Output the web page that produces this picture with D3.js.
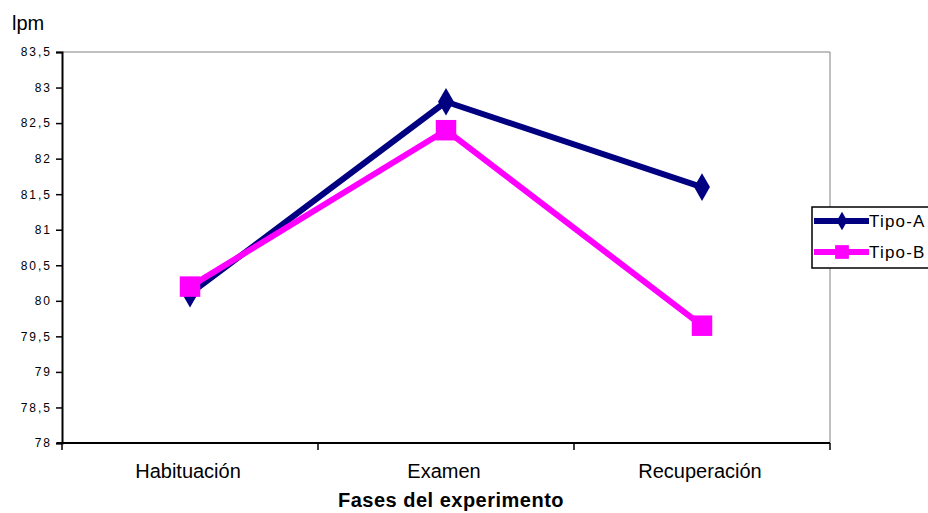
<!DOCTYPE html>
<html>
<head>
<meta charset="utf-8">
<script src="https://cdn.jsdelivr.net/npm/d3@7"></script>
<style>
  html, body { margin: 0; padding: 0; background: #fff; }
  svg { display: block; }
  text { font-family: "Liberation Sans", Arial, sans-serif; fill: #000; }
</style>
</head>
<body>
<svg id="chart" width="928" height="513"></svg>
<script>
// Heart rate (lpm) per experiment phase
const phases = ["Habituación", "Examen", "Recuperación"];
const tipoA = [80.1, 82.8, 81.6];
const tipoB = [80.2, 82.4, 79.65];
const yTicks = [78, 78.5, 79, 79.5, 80, 80.5, 81, 81.5, 82, 82.5, 83, 83.5];

const svg = d3.select("#chart");
const plot = { left: 62, right: 830, top: 52, bottom: 443 };

const x = d3.scaleBand().domain(phases).range([plot.left, plot.right]);
const y = d3.scaleLinear().domain([78, 83.5]).range([plot.bottom, plot.top]);
const fmt = v => String(v).replace(".", ",");

// plot frame (top and right edges)
svg.append("path")
  .attr("d", `M${plot.left},${plot.top}H${plot.right}V${plot.bottom}`)
  .attr("fill", "none").attr("stroke", "#808080").attr("stroke-width", 1);

// y axis
const yAxis = svg.append("g")
  .attr("transform", `translate(${plot.left},0)`)
  .call(d3.axisLeft(y).tickValues(yTicks).tickFormat(fmt).tickSize(6).tickPadding(4));
yAxis.select(".domain").attr("stroke", "#000").attr("stroke-width", 2);
yAxis.selectAll(".tick line").attr("stroke", "#000").attr("stroke-width", 1.5);
yAxis.selectAll("text")
  .style("font-size", "12px")
  .style("letter-spacing", "2px")
  .style("font-family", "'Liberation Sans', Arial, sans-serif");

// x axis with ticks at band boundaries
const xg = svg.append("g").attr("transform", `translate(0,${plot.bottom})`);
xg.append("line").attr("x1", plot.left - 5).attr("x2", plot.right)
  .attr("stroke", "#000").attr("stroke-width", 2);
const bounds = phases.map(p => x(p)).concat([plot.right]);
xg.selectAll("line.tk").data(bounds).join("line").attr("class", "tk")
  .attr("x1", d => d).attr("x2", d => d).attr("y1", 0).attr("y2", 7)
  .attr("stroke", "#000").attr("stroke-width", 1.5);
xg.selectAll("text.cat").data(phases).join("text").attr("class", "cat")
  .attr("x", d => x(d) + x.bandwidth() / 2 - 2).attr("y", 35)
  .attr("text-anchor", "middle").style("font-size", "20px").text(d => d);

// axis titles
svg.append("text").attr("x", 12).attr("y", 30).style("font-size", "20px").text("lpm");
svg.append("text").attr("x", 451).attr("y", 507)
  .attr("text-anchor", "middle").style("font-size", "20px").style("font-weight", "bold")
  .style("letter-spacing", "0.5px").text("Fases del experimento");

const cx = p => x(p) + x.bandwidth() / 2;
const line = d3.line().x((d, i) => cx(phases[i])).y(d => y(d));

const series = [
  { name: "Tipo-A", values: tipoA, color: "#000080", symbol: d3.symbolDiamond, size: 220 },
  { name: "Tipo-B", values: tipoB, color: "#FF00FF", symbol: d3.symbolSquare, size: 420 }
];

series.forEach(s => {
  svg.append("path").datum(s.values).attr("d", line)
    .attr("fill", "none").attr("stroke", s.color).attr("stroke-width", 6)
    .attr("stroke-linejoin", "round");
  svg.selectAll(null).data(s.values).join("path")
    .attr("transform", (d, i) => `translate(${cx(phases[i])},${y(d)})`)
    .attr("d", d3.symbol().type(s.symbol).size(s.size))
    .attr("fill", s.color);
});

// legend
const lg = svg.append("g");
lg.append("rect").attr("x", 812).attr("y", 207).attr("width", 130).attr("height", 61)
  .attr("fill", "#fff").attr("stroke", "#000").attr("stroke-width", 1.5);
series.forEach((s, i) => {
  const ly = 221 + i * 31;
  lg.append("line").attr("x1", 814).attr("x2", 869).attr("y1", ly).attr("y2", ly)
    .attr("stroke", s.color).attr("stroke-width", 6);
  lg.append("path").attr("transform", `translate(842,${ly})`)
    .attr("d", d3.symbol().type(s.symbol).size(s.size * 0.45)).attr("fill", s.color);
  lg.append("text").attr("x", 869).attr("y", ly + 6).style("font-size", "17px")
    .style("letter-spacing", "1.2px").text(s.name);
});
</script>
</body>
</html>
